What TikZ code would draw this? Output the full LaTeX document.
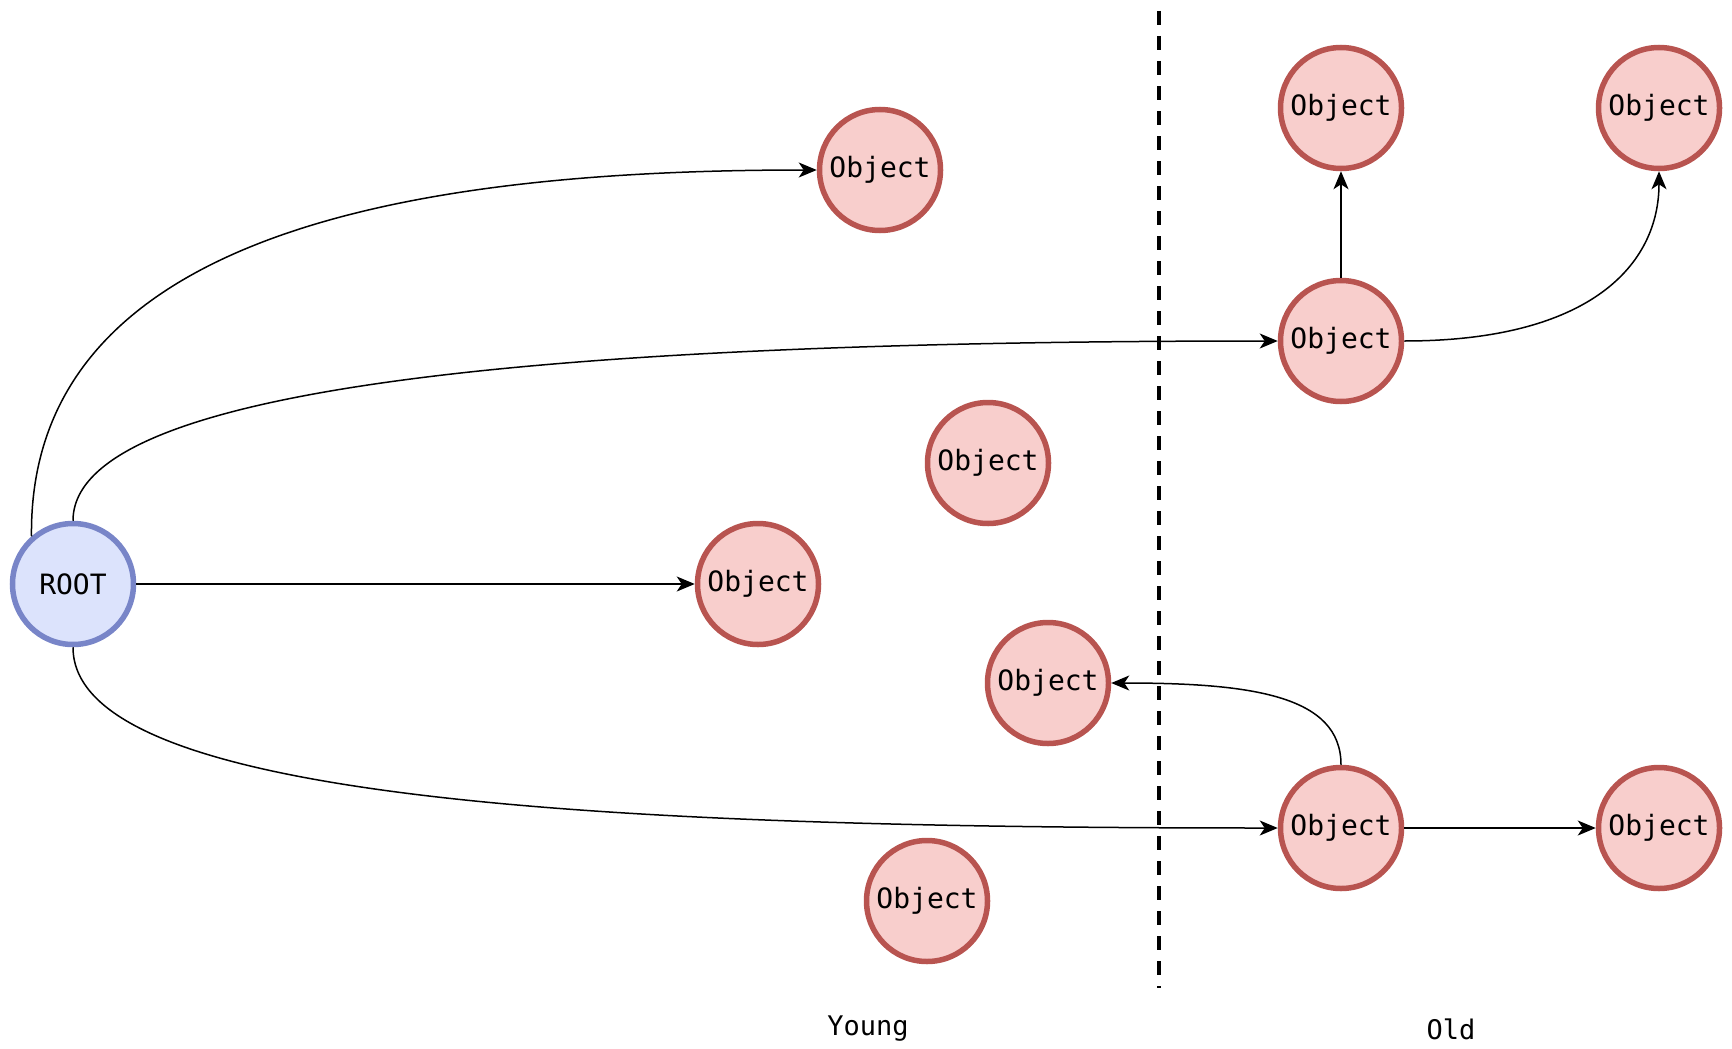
\documentclass[tikz,border=0pt]{standalone}
\usepackage{fontspec}
\setmonofont{DejaVu Sans Mono}
\usetikzlibrary{arrows.meta}
\definecolor{objfill}{HTML}{F8CECC}
\definecolor{objline}{HTML}{B85450}
\definecolor{rootfill}{HTML}{DCE3FC}
\definecolor{rootline}{HTML}{7885C8}
\begin{document}
\begin{tikzpicture}[x=1pt,y=-1pt,
  obj/.style={circle,draw=objline,fill=objfill,line width=5.5pt,minimum size=121pt,inner sep=0pt,font=\ttfamily\fontsize{28}{28}\selectfont},
  rootnode/.style={obj,draw=rootline,fill=rootfill},
  link/.style={line width=1.5pt,-{Stealth[length=18pt,width=15pt,inset=5pt]}},
  lbl/.style={font=\ttfamily\fontsize{27}{27}\selectfont}]
\useasboundingbox (0,0) rectangle (1732,1049);
% generation boundary
\draw[line width=4pt,dash pattern=on 14pt off 11pt] (1159,11) -- (1159,988);
\node[lbl] (young) at (868,1029) {Young};
\node[lbl] (old) at (1451,1029) {Old};
% objects
\node[rootnode] (root) at (73,584) {ROOT};
\node[obj] (a) at (880,170) {Object};
\node[obj] (b) at (1341,108) {Object};
\node[obj] (c) at (1659,108) {Object};
\node[obj] (d) at (1341,341) {Object};
\node[obj] (e) at (988,463) {Object};
\node[obj] (f) at (758,584) {Object};
\node[obj] (g) at (1048,683) {Object};
\node[obj] (h) at (1341,828) {Object};
\node[obj] (i) at (1659,828) {Object};
\node[obj] (j) at (927,901) {Object};
% references
\draw[link] (root.131) .. controls (28,230) and (420,170) .. (a.west);
\draw[link] (root.north) .. controls (73,390) and (520,341) .. (d.west);
\draw[link] (root) -- (f);
\draw[link] (root.south) .. controls (73,800) and (600,828) .. (h.west);
\draw[link] (d) -- (b);
\draw[link] (d.east) .. controls (1590,341) and (1659,265) .. (c.south);
\draw[link] (h.north) .. controls (1341,695) and (1250,683) .. (g.east);
\draw[link] (h) -- (i);
\end{tikzpicture}
\end{document}
